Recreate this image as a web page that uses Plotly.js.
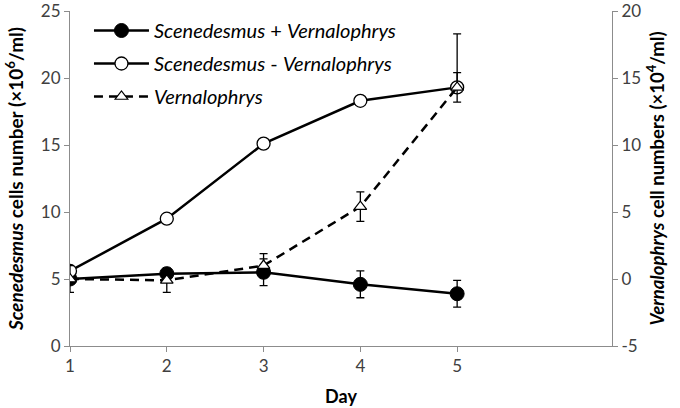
<!DOCTYPE html>
<html><head><meta charset="utf-8">
<script src="https://cdn.plot.ly/plotly-3.0.1.min.js"></script>
<style>html,body{margin:0;padding:0;background:#fff}</style>
</head><body>
<div id="chart" style="width:680px;height:408px"></div>
<script>
const days = [1, 2, 3, 4, 5];
const xTicks = [1, 2, 3, 4, 5];
const leftTicks = [0, 5, 10, 15, 20, 25];
const rightTicks = [-5, 0, 5, 10, 15, 20];
// Scenedesmus + Vernalophrys (left axis, ×10^6/ml)
const withVern = [5.0, 5.4, 5.5, 4.6, 3.9];
const withVernErr = [0.3, 0.4, 1.0, 1.0, 1.0];
// Scenedesmus - Vernalophrys (left axis)
const withoutVern = [5.6, 9.5, 15.1, 18.3, 19.3];
const withoutVernErrPlus = [0, 0, 0, 0, 4.0];
const withoutVernErrMinus = [0, 0, 0, 0, 0];
// Vernalophrys (right axis, ×10^4/ml)
const vern = [0.0, -0.1, 1.0, 5.4, 14.3];
const vernErr = [1.0, 0.9, 0.9, 1.1, 1.1];

const font = "Lato, 'Open Sans', sans-serif";
const traces = [
  {
    x: days, y: withVern, name: "<i>Scenedesmus</i> + <i>Vernalophrys</i>",
    mode: "lines+markers", yaxis: "y", legendgroup: "a",
    line: {color: "#000", width: 2.5},
    marker: {symbol: "circle", size: 14, color: "#000", line: {color: "#000", width: 1}},
    error_y: {type: "data", array: withVernErr, color: "#000", thickness: 1.3, width: 4}
  },
  {
    x: days, y: withoutVern, name: "<i>Scenedesmus</i> - <i>Vernalophrys</i>",
    mode: "lines+markers", yaxis: "y", legendgroup: "b",
    line: {color: "#000", width: 2.5},
    marker: {symbol: "circle", size: 13, color: "#fff", line: {color: "#000", width: 1.3}},
    error_y: {type: "data", symmetric: false, array: withoutVernErrPlus, arrayminus: withoutVernErrMinus, color: "#000", thickness: 1.3, width: 4}
  },
  {
    x: days, y: vern, name: "<i>Vernalophrys</i>",
    mode: "lines+markers", yaxis: "y2", legendgroup: "c",
    line: {color: "#000", width: 2.5, dash: "9px,6px"},
    marker: {symbol: "triangle-up", size: 11, color: "#fff", line: {color: "#000", width: 1.2}},
    error_y: {type: "data", array: vernErr, color: "#000", thickness: 1.3, width: 4}
  }
];

const tickFont = {family: font, size: 17, color: "#404040"};
const axisCommon = {
  showgrid: false, zeroline: false, showline: true, linecolor: "#8c8c8c", linewidth: 1,
  ticks: "outside", ticklen: 5, tickcolor: "#8c8c8c", tickfont: tickFont,
  ticklabeloverflow: "allow"
};
const layout = {
  width: 680, height: 408,
  margin: {l: 70, r: 68, t: 11, b: 62},
  paper_bgcolor: "#fff", plot_bgcolor: "#fff",
  showlegend: true,
  legend: {x: 0.035, y: 1.0, xanchor: "left", yanchor: "top", bgcolor: "rgba(0,0,0,0)",
    font: {family: font, size: 20, color: "#000"}, traceorder: "grouped", tracegroupgap: 4,
    itemwidth: 55},
  xaxis: Object.assign({}, axisCommon, {
    range: [1, 6.6], tickvals: xTicks, ticktext: xTicks.map(String),
    title: {text: "<b>Day</b>", font: {family: font, size: 18, color: "#000"}, standoff: 14}
  }),
  yaxis: Object.assign({}, axisCommon, {
    range: [0, 25], tickvals: leftTicks, ticktext: leftTicks.map(String),
    title: {text: "<b><i>Scenedesmus</i> cells number (×10<sup>6</sup>/ml)</b>", font: {family: font, size: 19, color: "#000"}, standoff: 12}
  }),
  yaxis2: Object.assign({}, axisCommon, {
    range: [-5, 20], tickvals: rightTicks, ticktext: rightTicks.map(String),
    overlaying: "y", side: "right",
    title: {text: "<b><i>Vernalophrys</i> cell numbers (×10<sup>4</sup>/ml)</b>", font: {family: font, size: 18.5, color: "#000"}, standoff: 10}
  })
};
Plotly.newPlot("chart", traces, layout, {displayModeBar: false, staticPlot: true});
</script>
</body></html>
